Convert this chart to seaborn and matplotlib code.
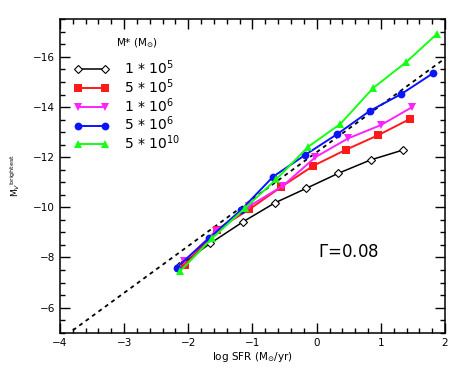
import numpy as np
import pandas as pd
import matplotlib
matplotlib.use("Agg")
import matplotlib.pyplot as plt
from matplotlib.lines import Line2D
from matplotlib.ticker import MultipleLocator
import seaborn as sns

# ---- data ----
labels = [r"1 $*$ 10$^{5}$", r"5 $*$ 10$^{5}$", r"1 $*$ 10$^{6}$", r"5 $*$ 10$^{6}$", r"5 $*$ 10$^{10}$"]
legend_title = r"M$*$ (M$_{\odot}$)"
colors = ["#000000", "#ff1a1a", "#ff22ff", "#0a14ff", "#14ff14"]
markers = ["D", "s", "v", "o", "^"]

x_1e5 = [-2.15, -1.66, -1.15, -0.65, -0.16, 0.34, 0.84, 1.35]
y_1e5 = [-7.65, -8.56, -9.42, -10.18, -10.76, -11.36, -11.89, -12.29]

x_5e5 = [-2.05, -1.56, -1.05, -0.55, -0.05, 0.45, 0.96, 1.45]
y_5e5 = [-7.70, -9.10, -9.92, -10.82, -11.66, -12.29, -12.88, -13.52]

x_1e6 = [-2.07, -1.57, -1.05, -0.53, -0.02, 0.49, 1.00, 1.49]
y_1e6 = [-7.85, -9.05, -10.05, -10.85, -12.00, -12.75, -13.28, -14.00]

x_5e6 = [-2.18, -1.68, -1.18, -0.68, -0.18, 0.32, 0.83, 1.32, 1.82]
y_5e6 = [-7.60, -8.76, -9.89, -11.22, -12.09, -12.92, -13.85, -14.52, -15.36]

x_5e10 = [-2.13, -1.63, -1.12, -0.63, -0.13, 0.37, 0.88, 1.39, 1.88]
y_5e10 = [-7.45, -8.76, -9.96, -11.12, -12.42, -13.33, -14.76, -15.78, -16.93]

xs = [x_1e5, x_5e5, x_1e6, x_5e6, x_5e10]
ys = [y_1e5, y_5e5, y_1e6, y_5e6, y_5e10]

# reference relation (dashed)
fit_x = [-3.8, 2.0]
fit_slope = -1.87
fit_icpt = -12.2
fit_y = [fit_slope * v + fit_icpt for v in fit_x]

gamma_text = r"$\Gamma$=0.08"

# ---- plot ----
sns.set_style("ticks")
plt.rcParams["font.family"] = ["DejaVu Sans"]
plt.rcParams["mathtext.fontset"] = "dejavusans"
plt.rcParams["text.color"] = "black"
plt.rcParams["axes.labelcolor"] = "black"
plt.rcParams["xtick.color"] = "black"
plt.rcParams["ytick.color"] = "black"

fig = plt.figure(figsize=(4.63, 3.71), dpi=100)
ax = fig.add_axes([60/463, 1-332.7/371, (445-60)/463, (332.7-19.3)/371])

sns.lineplot(x=fit_x, y=fit_y, ax=ax, color="black", linestyle=(0, (2.2, 2.2)),
             linewidth=1.3, legend=False)

MS_OPEN = 4.2
MS = 5.6
for i, (xv, yv) in enumerate(zip(xs, ys)):
    df = pd.DataFrame({"x": xv, "y": yv})
    if i == 0:
        sns.lineplot(data=df, x="x", y="y", ax=ax, sort=False, color=colors[i],
                     marker=markers[i], markersize=MS_OPEN, markerfacecolor="white",
                     markeredgecolor="black", markeredgewidth=0.8,
                     linewidth=1.1, legend=False)
    else:
        sns.lineplot(data=df, x="x", y="y", ax=ax, sort=False, color=colors[i],
                     marker=markers[i], markersize=MS, markeredgewidth=0,
                     linewidth=1.4, legend=False)

ax.set_xlim(-4, 2)
ax.set_ylim(-5, -17.5)
ax.xaxis.set_major_locator(MultipleLocator(1))
ax.xaxis.set_minor_locator(MultipleLocator(0.2))
ax.yaxis.set_major_locator(MultipleLocator(2))
ax.yaxis.set_minor_locator(MultipleLocator(0.5))
ax.tick_params(which="both", direction="in", top=True, right=True, labelsize=7.5,
               width=1.0, color="black", labelcolor="black")
ax.tick_params(which="major", length=7)
ax.tick_params(which="minor", length=3.5)
for s in ax.spines.values():
    s.set_linewidth(1.1)
    s.set_color("black")

ax.set_xlabel(r"log SFR (M$_{\odot}$/yr)", fontsize=7.5, labelpad=2)
ax.set_ylabel(r"M$_{V}$$^{\rm brightest}$", fontsize=6.5, labelpad=8)

ax.text(0.02, -8.2, gamma_text, fontsize=12, va="center", ha="left")

handles = []
for i in range(5):
    if i == 0:
        h = Line2D([], [], color=colors[i], marker=markers[i], markersize=MS_OPEN,
                   markerfacecolor="white", markeredgecolor="black",
                   markeredgewidth=0.8, linewidth=1.1)
    else:
        h = Line2D([], [], color=colors[i], marker=markers[i], markersize=MS,
                   markeredgewidth=0, linewidth=1.4)
    handles.append(h)
leg = ax.legend(handles, labels, loc="upper left", bbox_to_anchor=(0.037, 0.876),
                frameon=False, numpoints=2, handlelength=2.5, fontsize=10,
                labelspacing=0.02, handletextpad=1.05, borderpad=0, borderaxespad=0)
ax.text(0.2, 0.924, legend_title, transform=ax.transAxes, fontsize=7.5,
        ha="center", va="center")

fig.savefig("out.png", dpi=100)
